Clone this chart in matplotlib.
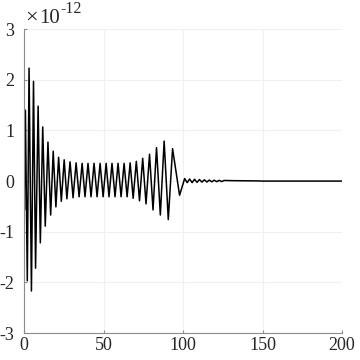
import matplotlib
matplotlib.use('Agg')
import matplotlib.pyplot as plt

# extrema of the trace (values in units of 1e-12)
t_start = [0.0, 0.2, 0.8, 2.0, 3.1, 4.6, 5.9, 7.2, 8.8, 10.2, 11.7, 13.3,
           15.0, 16.7, 18.3, 20.0, 21.7, 23.4, 25.2, 26.9]
y_start = [0.0, -0.57, 1.40, -1.97, 2.23, -2.17, 1.97, -1.72, 1.48, -1.22,
           1.07, -0.89, 0.77, -0.67, 0.59, -0.51, 0.47, -0.40, 0.42, -0.35]

t_mid = [28.9, 30.8, 32.7, 34.6, 36.5, 38.3, 40.2, 42.1, 44.0, 45.9, 47.8,
         49.7, 51.6, 53.4, 55.3, 57.2, 59.1, 61.0, 62.9, 64.8, 66.7, 68.6,
         70.6, 72.6, 74.6, 76.7, 78.9, 81.1, 83.3, 85.7, 88.1, 90.7, 93.4,
         97.8]
y_mid = [0.38, -0.33, 0.36, -0.31, 0.35, -0.31, 0.35, -0.31, 0.35, -0.31,
         0.35, -0.31, 0.35, -0.31, 0.35, -0.31, 0.35, -0.31, 0.35, -0.31,
         0.36, -0.34, 0.39, -0.39, 0.45, -0.45, 0.53, -0.57, 0.66, -0.67,
         0.79, -0.76, 0.64, -0.28]

t_tail = [101.0, 102.6, 104.1, 105.7, 107.2, 108.8, 110.3, 111.9, 113.4,
          115.0, 116.5, 118.1, 119.6, 121.2, 122.7, 124.3, 125.8, 128.9,
          132.0, 135.1, 138.2, 141.3, 144.4, 147.5, 150.0, 200.0]
y_tail = [0.05, -0.03, 0.04, -0.03, 0.035, -0.025, 0.03, -0.02, 0.025,
          -0.018, 0.02, -0.015, 0.018, -0.012, 0.015, -0.01, 0.012, 0.01,
          0.008, 0.007, 0.006, 0.005, 0.004, 0.003, 0.0, 0.0]

x_ticks = [0, 50, 100, 150, 200]
y_ticks = [-3, -2, -1, 0, 1, 2, 3]


def main():
    plt.rcParams['font.family'] = ['Liberation Serif', 'DejaVu Serif']
    plt.rcParams['axes.unicode_minus'] = False

    t = t_start + t_mid + t_tail
    y = y_start + y_mid + y_tail

    fig = plt.figure(figsize=(3.6, 3.6), dpi=100)
    ax = fig.add_axes([0.067, 0.075, 0.883, 0.844])
    ax.plot(t, y, color='black', lw=1.1)

    ax.set_xlim(0, 200)
    ax.set_ylim(-3, 3)
    ax.set_xticks(x_ticks)
    ax.set_yticks(y_ticks)
    ax.set_yticklabels([str(v) for v in y_ticks])
    ax.grid(True, color='#f0f0f0', lw=0.8)
    ax.set_axisbelow(True)

    for side in ['top', 'right']:
        ax.spines[side].set_visible(False)
    for side in ['left', 'bottom']:
        ax.spines[side].set_color('#8c8c8c')
        ax.spines[side].set_linewidth(0.8)
    ax.tick_params(direction='in', length=2, color='#8c8c8c',
                   labelcolor='#262626', labelsize=13)
    ax.tick_params(axis='y', pad=7)
    ax.tick_params(axis='x', pad=3)

    # exponent label in the MATLAB style
    fig.text(0.069, 0.936, '\u00d7', fontsize=16, color='#262626')
    fig.text(0.108, 0.936, '10', fontsize=15, color='#262626')
    fig.text(0.168, 0.964, '-12', fontsize=11.5, color='#262626')

    fig.savefig('out.png', dpi=100)


if __name__ == '__main__':
    main()
